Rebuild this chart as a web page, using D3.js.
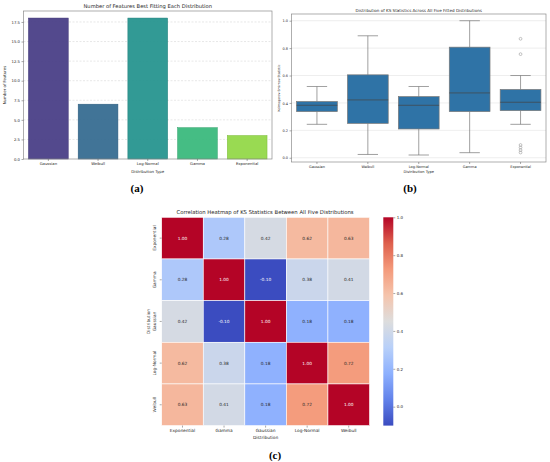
<!DOCTYPE html>
<html>
<head>
<meta charset="utf-8">
<script src="https://cdn.jsdelivr.net/npm/d3@7"></script>
<style>
body { margin: 0; background: #fff; }
text { font-family: "DejaVu Sans", sans-serif; fill: #262626; }
</style>
</head>
<body>
<div id="chart"></div>
<script>
// Data
const categories = ["Gaussian", "Weibull", "Log-Normal", "Gamma", "Exponential"]
const featureCounts = [18, 7, 18, 4, 3]
const countTicks = [0, 2.5, 5, 7.5, 10, 12.5, 15, 17.5]

const ksLow = [0.244, 0.024, 0.02, 0.037, 0.244]
const ksQ1 = [0.337, 0.251, 0.21, 0.337, 0.344]
const ksMedian = [0.383, 0.422, 0.383, 0.473, 0.405]
const ksQ3 = [0.41, 0.605, 0.446, 0.807, 0.498]
const ksHigh = [0.52, 0.89, 0.52, 1.0, 0.6]
const ksOutliers = [[], [], [], [], [0.868, 0.756, 0.093, 0.075, 0.056, 0.038]]
const ksTicks = [0, 0.2, 0.4, 0.6, 0.8, 1.0]

const heatLabels = ["Exponential", "Gamma", "Gaussian", "Log-Normal", "Weibull"]
const corr = [
	[1.00, 0.28, 0.42, 0.62, 0.63],
	[0.28, 1.00, -0.10, 0.38, 0.41],
	[0.42, -0.10, 1.00, 0.18, 0.18],
	[0.62, 0.38, 0.18, 1.00, 0.72],
	[0.63, 0.41, 0.18, 0.72, 1.00]
]
const cbarTicks = [0, 0.2, 0.4, 0.6, 0.8, 1.0]

const svg = d3.select("#chart").append("svg")
	.attr("width", 550)
	.attr("height", 462)

const TICK = "#555"
const FRAME = "#8c8c8c"

// small helper for a styled axis
function styleAxis(sel, size) {
	sel.select(".domain").remove()
	sel.selectAll(".tick line").attr("stroke", TICK).attr("stroke-width", 0.5)
	sel.selectAll(".tick text").attr("font-size", size).attr("fill", "#262626")
}

// ---------------- (a) bar chart ----------------
const A = { L: 23.5, R: 272, T: 11, B: 159 }
const xa = d3.scaleBand().domain(categories).range([A.L, A.R]).paddingInner(0.2).paddingOuter(0.1)
const ya = d3.scaleLinear().domain([0, 18.9]).range([A.B, A.T])
const ga = svg.append("g")

ga.selectAll(".grid").data(countTicks.slice(1)).join("line")
	.attr("x1", A.L).attr("x2", A.R)
	.attr("y1", d => ya(d)).attr("y2", d => ya(d))
	.attr("stroke", "#d9d9d9").attr("stroke-width", 0.6).attr("stroke-dasharray", "2,1.5")

ga.selectAll(".bar").data(featureCounts).join("rect")
	.attr("x", (d, i) => xa(categories[i]))
	.attr("width", xa.bandwidth())
	.attr("y", d => ya(d))
	.attr("height", d => ya(0) - ya(d))
	.attr("fill", (d, i) => d3.interpolateViridis((i + 1) / 6))
	.attr("fill-opacity", 0.92)
	.attr("stroke", (d, i) => d3.color(d3.interpolateViridis((i + 1) / 6)).darker(0.4))
	.attr("stroke-width", 0.5)

ga.append("rect").attr("x", A.L).attr("y", A.T).attr("width", A.R - A.L).attr("height", A.B - A.T)
	.attr("fill", "none").attr("stroke", FRAME).attr("stroke-width", 0.7)

ga.append("g").attr("transform", `translate(${A.L},0)`)
	.call(d3.axisLeft(ya).tickValues(countTicks).tickFormat(d3.format(".1f")).tickSize(2).tickPadding(1.5))
	.call(s => styleAxis(s, 3.8))
ga.append("g").attr("transform", `translate(0,${A.B})`)
	.call(d3.axisBottom(xa).tickSize(2).tickPadding(1.5))
	.call(s => styleAxis(s, 3.8))

ga.append("text").attr("x", (A.L + A.R) / 2).attr("y", 8).attr("text-anchor", "middle")
	.attr("font-size", 5.2).text("Number of Features Best Fitting Each Distribution")
ga.append("text").attr("x", (A.L + A.R) / 2).attr("y", 172.5).attr("text-anchor", "middle")
	.attr("font-size", 3.9).text("Distribution Type")
ga.append("text").attr("transform", `translate(6,${(A.T + A.B) / 2}) rotate(-90)`).attr("text-anchor", "middle")
	.attr("font-size", 3.9).text("Number of Features")

// ---------------- (b) box plot ----------------
const B = { L: 291.5, R: 546, T: 14, B: 162 }
const xb = d3.scaleBand().domain(categories).range([B.L, B.R]).paddingInner(0.2).paddingOuter(0.1)
const yb = d3.scaleLinear().domain([-0.031, 1.049]).range([B.B, B.T])
const gb = svg.append("g")

gb.selectAll(".grid").data(ksTicks).join("line")
	.attr("x1", B.L).attr("x2", B.R)
	.attr("y1", d => yb(d)).attr("y2", d => yb(d))
	.attr("stroke", "#e3e3e3").attr("stroke-width", 0.6)

categories.forEach((c, i) => {
	const x0 = xb(c), w = xb.bandwidth(), cx = x0 + w / 2
	const box = gb.append("g")
	box.append("line").attr("x1", cx).attr("x2", cx).attr("y1", yb(ksQ3[i])).attr("y2", yb(ksHigh[i]))
		.attr("stroke", "#777").attr("stroke-width", 0.7)
	box.append("line").attr("x1", cx).attr("x2", cx).attr("y1", yb(ksQ1[i])).attr("y2", yb(ksLow[i]))
		.attr("stroke", "#777").attr("stroke-width", 0.7)
	;[ksLow[i], ksHigh[i]].forEach(v => {
		box.append("line").attr("x1", cx - w / 4).attr("x2", cx + w / 4).attr("y1", yb(v)).attr("y2", yb(v))
			.attr("stroke", "#777").attr("stroke-width", 0.7)
	})
	box.append("rect").attr("x", x0).attr("width", w)
		.attr("y", yb(ksQ3[i])).attr("height", yb(ksQ1[i]) - yb(ksQ3[i]))
		.attr("fill", "#2f73a6").attr("stroke", "#777").attr("stroke-width", 0.7)
	box.append("line").attr("x1", x0).attr("x2", x0 + w).attr("y1", yb(ksMedian[i])).attr("y2", yb(ksMedian[i]))
		.attr("stroke", "#444").attr("stroke-width", 0.7)
	box.selectAll("circle").data(ksOutliers[i]).join("circle")
		.attr("cx", cx).attr("cy", d => yb(d)).attr("r", 1.4)
		.attr("fill", "none").attr("stroke", "#888").attr("stroke-width", 0.5)
})

gb.append("rect").attr("x", B.L).attr("y", B.T).attr("width", B.R - B.L).attr("height", B.B - B.T)
	.attr("fill", "none").attr("stroke", FRAME).attr("stroke-width", 0.7)

gb.append("g").attr("transform", `translate(${B.L},0)`)
	.call(d3.axisLeft(yb).tickValues(ksTicks).tickFormat(d3.format(".1f")).tickSize(2).tickPadding(1.5))
	.call(s => styleAxis(s, 3.5))
gb.append("g").attr("transform", `translate(0,${B.B})`)
	.call(d3.axisBottom(xb).tickSize(2).tickPadding(1.5))
	.call(s => styleAxis(s, 3.5))

gb.append("text").attr("x", (B.L + B.R) / 2).attr("y", 11.5).attr("text-anchor", "middle")
	.attr("font-size", 4.1).text("Distribution of KS Statistics Across All Five Fitted Distributions")
gb.append("text").attr("x", (B.L + B.R) / 2).attr("y", 173).attr("text-anchor", "middle")
	.attr("font-size", 3.6).text("Distribution Type")
gb.append("text").attr("transform", `translate(280,${(B.T + B.B) / 2}) rotate(-90)`).attr("text-anchor", "middle")
	.attr("font-size", 3.2).text("Kolmogorov-Smirnov Statistic")

// ---------------- (c) heatmap ----------------
const C = { L: 161.7, R: 369.5, T: 217.3, B: 425.6 }
const xc = d3.scaleBand().domain(heatLabels).range([C.L, C.R])
const yc = d3.scaleBand().domain(heatLabels).range([C.T, C.B])
const coolStops = ["#3b4cc0", "#6282ea", "#8db0fe", "#b8d0f9", "#dddddd", "#f5c4ac", "#f49a7b", "#de604d", "#b40426"]
const coolwarm = d3.scaleLinear().domain(d3.range(9).map(i => i / 8)).range(coolStops).interpolate(d3.interpolateRgb)
const norm = d3.scaleLinear().domain([-0.1, 1.0]).range([0, 1]).clamp(true)
const color = v => coolwarm(norm(v))

function lum(c) {
	const r = d3.rgb(c)
	const f = v => { v /= 255; return v <= 0.03928 ? v / 12.92 : Math.pow((v + 0.055) / 1.055, 2.4) }
	return 0.2126 * f(r.r) + 0.7152 * f(r.g) + 0.0722 * f(r.b)
}

const gc = svg.append("g")
const cells = corr.flatMap((row, i) => row.map((v, j) => ({ r: heatLabels[i], c: heatLabels[j], v })))

gc.selectAll(".cell").data(cells).join("rect")
	.attr("x", d => xc(d.c)).attr("y", d => yc(d.r))
	.attr("width", xc.bandwidth()).attr("height", yc.bandwidth())
	.attr("fill", d => color(d.v))
	.attr("stroke", "#fff").attr("stroke-width", 0.6)

// annotations with a plain hyphen for negatives, like the reference
gc.selectAll(".annot").data(cells).join("text")
	.attr("x", d => xc(d.c) + xc.bandwidth() / 2)
	.attr("y", d => yc(d.r) + yc.bandwidth() / 2)
	.attr("dy", "0.35em").attr("text-anchor", "middle").attr("font-size", 4.3)
	.style("fill", d => lum(color(d.v)) > 0.408 ? "#262626" : "#fff")
	.text(d => d.v.toFixed(2))

gc.append("g").attr("transform", `translate(${C.L},0)`)
	.call(d3.axisLeft(yc).tickSize(2).tickPadding(1.5))
	.call(s => styleAxis(s, 4.3))
	.call(s => s.selectAll(".tick text")
		.attr("text-anchor", "middle").attr("x", 0).attr("dy", 0)
		.attr("transform", "translate(-5.5,0) rotate(-90)"))
gc.append("g").attr("transform", `translate(0,${C.B})`)
	.call(d3.axisBottom(xc).tickSize(2).tickPadding(1.5))
	.call(s => styleAxis(s, 4.3))

gc.append("text").attr("x", 265).attr("y", 214).attr("text-anchor", "middle")
	.attr("font-size", 5.3).text("Correlation Heatmap of KS Statistics Between All Five Distributions")
gc.append("text").attr("x", (C.L + C.R) / 2).attr("y", 438.5).attr("text-anchor", "middle")
	.attr("font-size", 4.3).text("Distribution")
gc.append("text").attr("transform", `translate(150,${(C.T + C.B) / 2}) rotate(-90)`).attr("text-anchor", "middle")
	.attr("font-size", 4.3).text("Distribution")

// colorbar
const CB = { L: 383.3, W: 10 }
const ycb = d3.scaleLinear().domain([-0.1, 1.0]).range([C.B, C.T])
const grad = svg.append("defs").append("linearGradient").attr("id", "cw")
	.attr("x1", 0).attr("y1", 1).attr("x2", 0).attr("y2", 0)
grad.selectAll("stop").data(coolStops).join("stop")
	.attr("offset", (d, i) => i / 8).attr("stop-color", d => d)
gc.append("rect").attr("x", CB.L).attr("y", C.T).attr("width", CB.W).attr("height", C.B - C.T)
	.attr("fill", "url(#cw)")
gc.append("g").attr("transform", `translate(${CB.L + CB.W},0)`)
	.call(d3.axisRight(ycb).tickValues(cbarTicks).tickFormat(d3.format(".1f")).tickSize(2).tickPadding(1.5))
	.call(s => styleAxis(s, 4))

// panel captions
const captions = [["(a)", 137, 192], ["(b)", 410, 192], ["(c)", 275, 459]]
svg.selectAll(".cap").data(captions).join("text")
	.attr("x", d => d[1]).attr("y", d => d[2]).attr("text-anchor", "middle")
	.attr("font-size", 11).attr("font-weight", "bold")
	.style("font-family", "'Liberation Serif', serif").style("fill", "#000")
	.text(d => d[0])
</script>
</body>
</html>
